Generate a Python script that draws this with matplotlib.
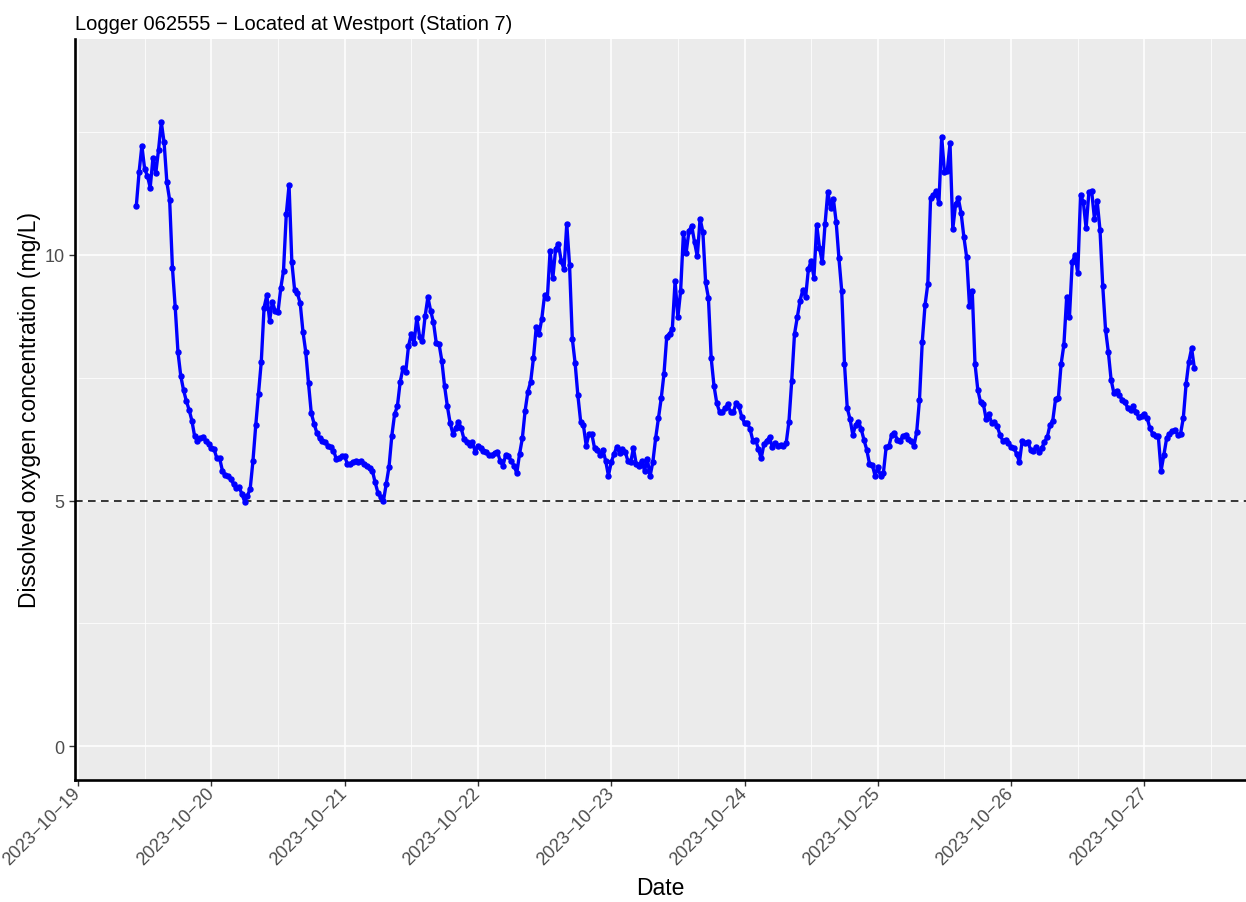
import numpy as np
import pandas as pd
import matplotlib
matplotlib.use("Agg")
import matplotlib.pyplot as plt
import matplotlib.dates as mdates
from matplotlib.ticker import MultipleLocator

plt.rcParams['font.family'] = ['Liberation Sans', 'DejaVu Sans']

# Logger readings (mg/L), one every 30 minutes in chunks
first_time = "2023-10-19 10:30"
do_chunk1 = [11.0, 11.69, 12.22, 11.75, 11.61, 11.37, 11.98, 11.66, 12.14, 12.70,
             12.29, 11.48, 11.12, 9.74, 8.94, 8.02, 7.54, 7.25, 7.03, 6.85,
             6.63, 6.31, 6.22, 6.28, 6.29, 6.22, 6.15, 6.07, 6.05, 5.86,
             5.86, 5.61, 5.52, 5.50, 5.44, 5.34, 5.25, 5.27, 5.14, 4.98,
             5.10, 5.24, 5.81]
do_chunk2 = [6.53, 7.17, 7.83, 8.93, 9.18, 8.66, 9.05, 8.86, 8.83, 9.32,
             9.68, 10.83, 11.42, 9.85, 9.29, 9.22, 9.02, 8.44, 8.03, 7.39,
             6.78, 6.57, 6.38, 6.27, 6.22, 6.19, 6.12, 6.09, 6.02, 5.85,
             5.86, 5.90, 5.90, 5.75, 5.75, 5.79, 5.81, 5.78, 5.81, 5.75,
             5.70, 5.66, 5.61]
do_chunk3 = [5.37, 5.16, 5.07, 5.00, 5.34, 5.69, 6.32, 6.76, 6.92, 7.41,
             7.69, 7.61, 8.14, 8.39, 8.21, 8.72, 8.34, 8.25, 8.76, 9.14,
             8.86, 8.63, 8.21, 8.19, 7.85, 7.33, 6.92, 6.58, 6.36, 6.47,
             6.61, 6.47, 6.25, 6.19, 6.13, 6.19, 6.00, 6.12, 6.07, 6.02,
             6.00, 5.92, 5.93, 5.97]
do_chunk4 = [6.00, 5.81, 5.71, 5.93, 5.90, 5.81, 5.71, 5.56, 5.95, 6.27,
             6.83, 7.22, 7.42, 7.90, 8.53, 8.39, 8.70, 9.18, 9.12, 10.08,
             9.54, 10.13, 10.22, 9.88, 9.71, 10.63, 9.79, 8.29, 7.80, 7.14,
             6.61, 6.53, 6.12, 6.36, 6.36, 6.07, 6.04, 5.93, 6.04, 5.81,
             5.51, 5.78, 5.95, 6.09]
do_chunk5 = [5.97, 6.05, 6.00, 5.81, 5.78, 6.07, 5.75, 5.71, 5.81, 5.61,
             5.85, 5.50, 5.79, 6.27, 6.68, 7.08, 7.58, 8.34, 8.40, 8.49,
             9.47, 8.73, 9.27, 10.44, 10.05, 10.49, 10.59, 10.26, 9.97, 10.74,
             10.47, 9.44, 9.13, 7.90, 7.34, 6.99, 6.81, 6.80, 6.88, 6.96,
             6.80, 6.80, 6.99]
do_chunk6 = [6.92, 6.70, 6.58, 6.58, 6.46, 6.22, 6.24, 6.05, 5.86, 6.15,
             6.22, 6.29, 6.09, 6.17, 6.12, 6.13, 6.12, 6.17, 6.61, 7.44,
             8.39, 8.73, 9.07, 9.29, 9.14, 9.71, 9.88, 9.54, 10.61, 10.15,
             9.85, 10.63, 11.29, 10.95, 11.14, 10.67, 9.93, 9.27, 7.78, 6.88,
             6.66, 6.34, 6.54]
do_chunk7 = [6.61, 6.46, 6.24, 6.04, 5.75, 5.73, 5.51, 5.68, 5.50, 5.56,
             6.09, 6.11, 6.34, 6.38, 6.24, 6.22, 6.31, 6.34, 6.25, 6.22,
             6.11, 6.40, 7.05, 8.23, 8.98, 9.41, 11.15, 11.22, 11.30, 11.05,
             12.41, 11.68, 11.71, 12.27, 10.53, 11.03, 11.15, 10.85, 10.36, 9.95,
             8.97, 9.27, 7.78]
do_chunk8 = [7.26, 7.00, 6.97, 6.66, 6.76, 6.58, 6.61, 6.51, 6.34, 6.22,
             6.24, 6.17, 6.09, 6.07, 5.95, 5.79, 6.22, 6.17, 6.20, 6.04,
             6.02, 6.09, 6.00, 6.07, 6.19, 6.29, 6.54, 6.63, 7.07, 7.08,
             7.78, 8.17, 9.14, 8.73, 9.85, 10.00, 9.63, 11.22, 11.08, 10.54,
             11.28, 11.30, 10.74]
do_chunk9 = [11.09, 10.51, 9.36, 8.48, 8.03, 7.46, 7.19, 7.24, 7.15, 7.05,
             7.01, 6.88, 6.85, 6.92, 6.80, 6.70, 6.73, 6.76, 6.68, 6.47,
             6.36, 6.31, 6.31, 5.61, 5.93, 6.27, 6.36, 6.42, 6.44, 6.34,
             6.36, 6.68, 7.37, 7.83, 8.10, 7.69]

do_values = (do_chunk1 + do_chunk2 + do_chunk3 + do_chunk4 + do_chunk5
             + do_chunk6 + do_chunk7 + do_chunk8 + do_chunk9)
times = pd.date_range(first_time, periods=len(do_values), freq="30min")

threshold = 5
y_ticks = [0, 5, 10]
title = "Logger 062555 \u2212 Located at Westport (Station 7)"

# Figure with a ggplot-like panel
fig = plt.figure(figsize=(12.46, 9.03), dpi=100)
ax = fig.add_axes([75 / 1246, 1 - 781 / 903, 1 - 75 / 1246, (781 - 40) / 903])
ax.set_facecolor("#EBEBEB")

ax.plot(times, do_values, color="#0000FF", lw=2.4, marker="o", ms=3.6, zorder=3)
ax.axhline(threshold, color="black", lw=1.1, linestyle=(0, (5, 3.5)), zorder=2)

# Axis limits
day0 = mdates.date2num(pd.Timestamp("2023-10-19"))
ax.set_xlim(day0 - 0.0225, day0 + 8.762)
ax.set_ylim(-0.685, 14.395)

# Ticks and grid
ax.xaxis.set_major_locator(mdates.DayLocator())
ax.xaxis.set_minor_locator(mdates.HourLocator(byhour=12))
ax.xaxis.set_major_formatter(mdates.DateFormatter("%Y\u2212%m\u2212%d"))
ax.set_yticks(y_ticks)
ax.yaxis.set_minor_locator(MultipleLocator(2.5))
ax.grid(which="major", color="white", lw=1.1)
ax.grid(which="minor", color="white", lw=0.55)
ax.set_axisbelow(True)
ax.tick_params(which="major", length=4, width=1, color="#333333",
               labelsize=13, labelcolor="#4D4D4D")
ax.tick_params(which="minor", length=0)
for lbl in ax.get_xticklabels():
    lbl.set_rotation(45)
    lbl.set_ha("right")
    lbl.set_va("center")
    lbl.set_rotation_mode("anchor")

for side in ["top", "right"]:
    ax.spines[side].set_visible(False)
for side in ["left", "bottom"]:
    ax.spines[side].set_color("black")
    ax.spines[side].set_linewidth(1.9)

ax.set_xlabel("Date", fontsize=16.5, color="black")
ax.set_ylabel("Dissolved oxygen concentration (mg/L)", fontsize=16.5, color="black")
ax.xaxis.set_label_coords(0.5, (781 - 889) / 741)
ax.yaxis.set_label_coords((30 - 75) / 1171, 0.5)
ax.xaxis.label.set_va("center")
ax.yaxis.label.set_va("center")

fig.text(75 / 1246, 1 - 30 / 903, title, fontsize=14.5, ha="left", va="baseline")

fig.savefig("out.png", dpi=100)
